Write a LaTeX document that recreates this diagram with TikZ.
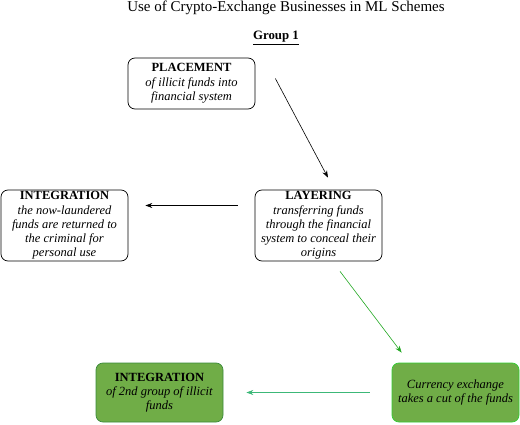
\documentclass[tikz,border=0pt]{standalone}
\usepackage{fontspec}
\setmainfont{Liberation Serif}[
  UprightFont={Liberation Serif},
  BoldFont={Liberation Serif Bold},
  ItalicFont={Liberation Serif Italic},
  BoldItalicFont={Liberation Serif Bold Italic}]
\usepackage{xcolor}
\usetikzlibrary{arrows, arrows.meta}
\usetikzlibrary{calc}

\definecolor{boxgreen}{HTML}{70AD47}
\definecolor{darkedge}{HTML}{3A8A3A}
\definecolor{brightedge}{HTML}{33CC33}
\definecolor{arrowgreen}{HTML}{22A822}
\definecolor{arrowteal}{HTML}{3CB878}

\begin{document}
\begin{tikzpicture}[x=1pt, y=-1pt,
    stage/.style={draw, rounded corners=7pt, line width=0.7pt, align=center,
      minimum width=127pt, inner sep=1pt,
      font=\fontsize{12.5}{14.3}\selectfont},
    flow/.style={-{Stealth[length=7pt, width=5pt]}, line width=0.6pt}]
    \useasboundingbox (0,0) rectangle (520,425);

    \node (title) at (286, 8) {\fontsize{15}{16}\selectfont Use of Crypto-Exchange Businesses in ML Schemes};
    \node (group) at (276, 38) {\fontsize{12.8}{14}\selectfont\textbf{\underline{Group 1}}};

    \node[stage, minimum height=51pt] (placement) at (191.5, 83.5) {\textbf{PLACEMENT}\\\textit{of illicit funds into}\\\textit{financial system}};
    \node[stage, minimum height=71pt] (layering) at (318.5, 225.5) {\textbf{LAYERING}\\\textit{transferring funds}\\\textit{through the financial}\\\textit{system to conceal their}\\\textit{origins}};
    \node[stage, minimum height=71pt] (integration) at (64.5, 225.5) {\textbf{INTEGRATION}\\\textit{the now-laundered}\\\textit{funds are returned to}\\\textit{the criminal for}\\\textit{personal use}};
    \node[stage, minimum height=59pt, fill=boxgreen, draw=darkedge] (integration2) at (159.5, 392.5) {\textbf{INTEGRATION}\\\textit{of 2nd group of illicit}\\\textit{funds}};
    \node[stage, minimum height=59pt, fill=boxgreen, draw=brightedge] (exchange) at (455.5, 392.5) {\textit{Currency exchange}\\\textit{takes a cut of the funds}};

    \draw[flow] ([xshift=20pt, yshift=5pt]placement.east) -- ([xshift=9.5pt, yshift=12pt]layering.north);
    \draw[flow] ([xshift=-17pt, yshift=20pt]layering.west) -- ([xshift=17pt, yshift=20pt]integration.east);
    \draw[flow, arrowgreen] ([xshift=21.5pt, yshift=-10pt]layering.south) -- ([xshift=10pt, yshift=10pt]exchange.north west);
    \draw[flow, arrowteal] ([xshift=-22pt]exchange.west) -- ([xshift=23pt]integration2.east);
\end{tikzpicture}
\end{document}
